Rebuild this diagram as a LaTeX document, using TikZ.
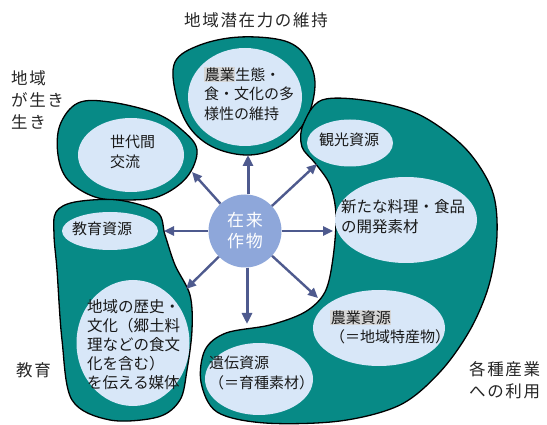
\documentclass[tikz,border=0pt]{standalone}
\usepackage{fontspec}
\setmainfont{Noto Sans CJK JP}
\newfontfamily\spaced[LetterSpace=10]{Noto Sans CJK JP}
\usetikzlibrary{shapes.geometric,arrows.meta}
\definecolor{blobteal}{HTML}{078A86}
\definecolor{innerblue}{HTML}{D8E7F8}
\definecolor{corecircle}{HTML}{8EA7DA}
\definecolor{arrowblue}{HTML}{4E5A8E}
\definecolor{hlgray}{HTML}{D6D6D6}
\newcommand\hlbox[1]{{\setlength{\fboxsep}{0.6pt}\colorbox{hlgray}{#1}}}
\tikzset{
  blob/.style={fill=blobteal, draw=black, line width=1.3pt},
  inner/.style={ellipse, fill=innerblue, draw=none, inner sep=0pt},
  intext/.style={anchor=west, align=left, inner sep=0pt, font=\fontsize{15}{19.5}\selectfont, text=black!90},
  outlabel/.style={align=left, inner sep=0pt, font=\spaced\fontsize{16.5}{22}\selectfont, text=black!85},
  arr/.style={draw=arrowblue, line width=3pt, -{Triangle[length=11pt,width=10pt]}},
  arrthin/.style={draw=arrowblue, line width=2.4pt, -{Triangle[length=10pt,width=9pt]}}
}
\begin{document}
\begin{tikzpicture}[x=1pt,y=-1pt]
\useasboundingbox[fill=white] (0,0) rectangle (547,425);

% blobs
\draw[blob] plot[smooth cycle, tension=0.6] coordinates {
 (175,62) (200,45) (240,37) (285,41) (307,58) (315,85) (306,120) (282,145) (250,155) (215,148) (190,128) (176,95)};
\draw[blob] plot[smooth cycle, tension=0.6] coordinates {
 (60,125) (78,103) (110,102) (155,113) (182,130) (197,150) (187,177) (160,196) (128,200) (95,197) (68,180) (58,155)};
\draw[blob] plot[smooth cycle, tension=0.55] coordinates {
 (56,212) (75,202) (118,200) (157,212) (165,235) (175,265) (190,295) (192,330) (187,370) (180,400) (158,417) (110,420) (72,400) (62,340) (57,270) (54,235)};
\draw[blob] plot[smooth cycle, tension=0.55] coordinates {
 (303,125) (322,100) (370,101) (420,115) (465,148) (492,190) (497,235) (489,285) (470,330) (440,372) (400,405) (340,421) (265,423) (217,412) (201,382) (205,350) (226,333) (270,325) (305,312) (325,292) (333,258) (336,215) (330,185) (315,163) (302,147)};

% inner ellipses
\node[inner, minimum width=114, minimum height=98] (eco) at (245,97) {};
\node[inner, minimum width=106, minimum height=74] (gen) at (131,155) {};
\node[inner, minimum width=96, minimum height=38] (edu) at (110,231) {};
\node[inner, minimum width=113, minimum height=126] (hist) at (133,343) {};
\node[inner, minimum width=86, minimum height=47] (tour) at (350,143) {};
\node[inner, minimum width=142, minimum height=86] (food) at (406,220) {};
\node[inner, minimum width=132, minimum height=76] (agri) at (379,328) {};
\node[inner, minimum width=108, minimum height=72] (gene) at (259,379) {};

% inner texts
\node[intext] (ecotxt) at (204,94) {\hlbox{農業}生態・\\食・文化の多\\様性の維持};
\node[intext] (gentxt) at (110,152) {世代間\\交流};
\node[intext] (edutxt) at (72,229) {教育資源};
\node[intext, font=\fontsize{15.5}{19}\selectfont] (histtxt) at (87,345) {地域の歴史・\\文化（郷土料\\理などの食文\\化を含む）\\を伝える媒体};
\node[intext] (tourtxt) at (319,140) {観光資源};
\node[intext, font=\fontsize{15.5}{20}\selectfont] (foodtxt) at (341,217) {新たな料理・食品\\の開発素材};
\node[intext] (agritxt) at (330,327) {\hlbox{農業資源}\\（＝地域特産物）};
\node[intext] (genetxt) at (209,373) {遺伝資源\\ （＝育種素材）};

% center
\node[circle, fill=corecircle, minimum size=73, inner sep=0pt, align=center,
      text=white, font=\spaced\fontsize{17}{21}\selectfont] (core) at (245,231) {在来\\作物};

% arrow end points
\coordinate (tU) at (248,155);
\coordinate (tUL) at (192,172);
\coordinate (tUR) at (317,164);
\coordinate (tL) at (164,231);
\coordinate (tR) at (333,231);
\coordinate (tDL) at (186,289);
\coordinate (tD) at (247,324);
\coordinate (tDR) at (318,298);

\draw[arr] (core.north -| tU) -- (tU);
\draw[arrthin] (core) -- (tUL);
\draw[arrthin] (core) -- (tUR);
\draw[arrthin] (core) -- (tL);
\draw[arrthin] (core) -- (tR);
\draw[arrthin] (core) -- (tDL);
\draw[arr] (core.south -| tD) -- (tD);
\draw[arrthin] (core) -- (tDR);

% outer labels
\node[outlabel, anchor=center] (lblTop) at (256,20) {地域潜在力の維持};
\node[outlabel, anchor=north west] (lblLeft) at (11,70) {地域\\が生き\\生き};
\node[outlabel, anchor=west] (lblEdu) at (16,370) {教育};
\node[outlabel, anchor=north west] (lblInd) at (469,361) {各種産業\\への利用};
\end{tikzpicture}
\end{document}
